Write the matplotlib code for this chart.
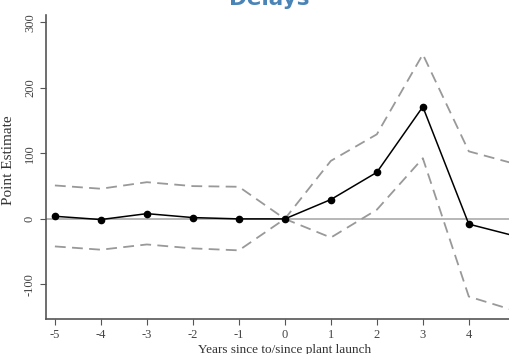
import numpy as np
import matplotlib.pyplot as plt

# données
years = [-5, -4, -3, -2, -1, 0, 1, 2, 3, 4, 5]
point_est = [4, -1, 8, 2, 0, 0, 29.5, 71, 171, -8, -26]
ci_upper = [51, 46, 56, 50, 49, 0, 88.5, 129, 251, 103, 84]
ci_lower = [-42, -47, -39, -45, -48, 0, -28.5, 14, 92.5, -118.5, -140]
xticks = [-5, -4, -3, -2, -1, 0, 1, 2, 3, 4]
yticks = [-100, 0, 100, 200, 300]

serif = ['Liberation Serif', 'DejaVu Serif']

fig = plt.figure(figsize=(5.09, 3.54), dpi=100)
ax = fig.add_axes([45.7 / 509, 1 - 319 / 354, (524 - 45.7) / 509, (319 - 15) / 354])

ax.axhline(0, color='#aaaaaa', lw=1.2, zorder=1)
ax.plot(years, ci_upper, color='#999999', lw=1.3, ls=(0, (6, 3.5)), zorder=2)
ax.plot(years, ci_lower, color='#999999', lw=1.3, ls=(0, (6, 3.5)), zorder=2)
ax.plot(years, point_est, color='black', lw=1.1, marker='o', ms=4.5, zorder=3)

ax.set_xlim(-5.2, 5.2)
ax.set_ylim(-152.7, 311)
ax.set_xticks(xticks)
ax.set_yticks(yticks)
ax.set_xticklabels([str(t) for t in xticks], family=serif, fontsize=9, color='#444444')
ax.set_yticklabels([str(t) for t in yticks], family=serif, fontsize=9, color='#444444',
                   rotation=90, va='center')
ax.tick_params(axis='both', length=4, width=0.8, color='#555555', pad=3)

for s in ['top', 'right']:
    ax.spines[s].set_visible(False)
for s in ['left', 'bottom']:
    ax.spines[s].set_color('#555555')
    ax.spines[s].set_linewidth(1.2)

ax.set_ylabel('Point Estimate', family=serif, fontsize=11, color='#333333')
ax.yaxis.set_label_coords(-0.064, 0.523)
ax.set_xlabel('Years since to/since plant launch', family=serif, fontsize=9.5,
              color='#333333', labelpad=2)

# titre coupé en haut comme sur l'image d'origine
fig.text(269 / 509, 1 - 5 / 354, 'Delays', ha='center', va='baseline',
         fontsize=15.5, fontweight='bold', color='#4a84b6')

fig.savefig('out.png', dpi=100)
plt.close()
